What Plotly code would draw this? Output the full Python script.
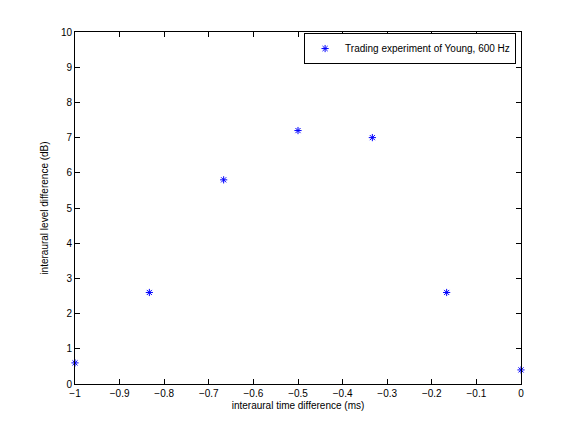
import plotly.graph_objects as go

itd_ms = [-1.0, -0.8333, -0.6667, -0.5, -0.3333, -0.1667, 0.0]
ild_db = [0.6, 2.6, 5.8, 7.2, 7.0, 2.6, 0.4]
x_ticks = [-1, -0.9, -0.8, -0.7, -0.6, -0.5, -0.4, -0.3, -0.2, -0.1, 0]
y_ticks = [0, 1, 2, 3, 4, 5, 6, 7, 8, 9, 10]

font = dict(family="Liberation Sans, Arial, Helvetica, sans-serif", size=10, color="black")

fig = go.Figure()
fig.add_trace(go.Scatter(
    x=itd_ms, y=ild_db, mode="markers",
    name="Trading experiment of Young, 600 Hz",
    marker=dict(symbol="asterisk-open", size=6, color="blue",
                line=dict(color="blue", width=1)),
    cliponaxis=False,
))

axis_common = dict(
    showline=True, linecolor="black", linewidth=1, mirror="ticks",
    ticks="inside", ticklen=5, tickcolor="black", tickwidth=1,
    showgrid=False, zeroline=False, tickfont=font,
)
fig.update_xaxes(range=[-1, 0], tickvals=x_ticks,
                 ticktext=[("−%g" % abs(v)) if v < 0 else "%g" % v for v in x_ticks],
                 title=dict(text="interaural time difference (ms)", font=font, standoff=3),
                 **axis_common)
fig.update_yaxes(range=[0, 10], tickvals=y_ticks,
                 title=dict(text="interaural level difference (dB)", font=font, standoff=10),
                 **axis_common)

fig.update_layout(
    width=560, height=416,
    margin=dict(l=67, r=47, t=24, b=40),
    paper_bgcolor="white", plot_bgcolor="white",
    font=font,
    showlegend=True,
    legend=dict(x=0.989, y=0.997, xanchor="right", yanchor="top",
                bgcolor="white", bordercolor="black", borderwidth=1,
                font=font, tracegroupgap=0),
)

fig.write_html("out.html")
